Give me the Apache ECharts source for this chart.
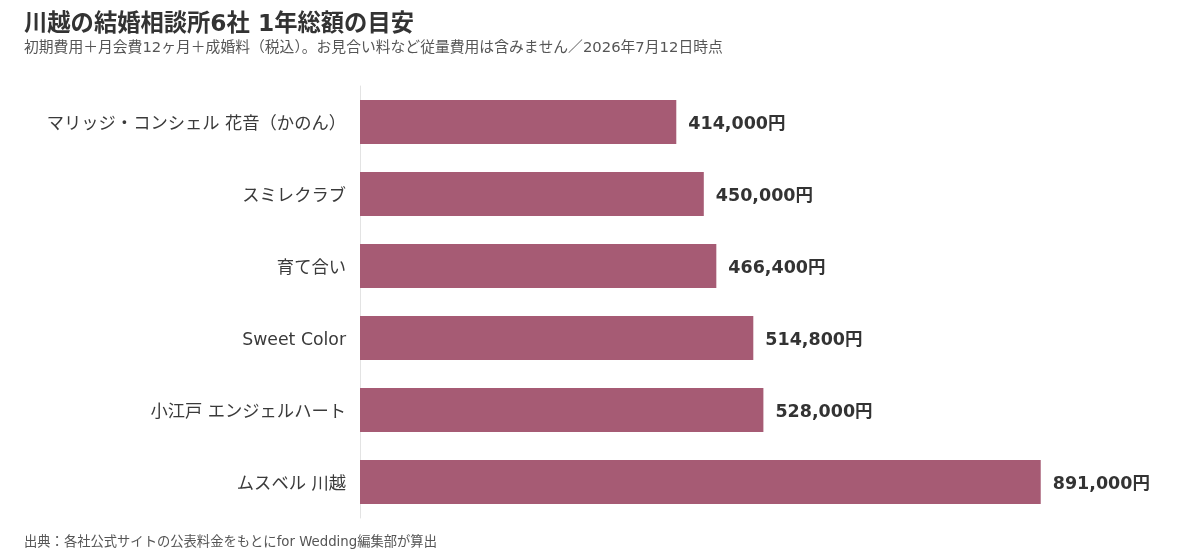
<!DOCTYPE html>
<html><head><meta charset="utf-8">
<script src="https://cdn.jsdelivr.net/npm/echarts@6/dist/echarts.min.js"></script>
<style>html,body{margin:0;padding:0;background:#fff}#c{width:1200px;height:554px}</style>
</head><body><div id="c"></div>
<script>
const categories = ["マリッジ・コンシェル 花音（かのん）","スミレクラブ","育て合い","Sweet Color","小江戸 エンジェルハート","ムスベル 川越"];
const values = [414000,450000,466400,514800,528000,891000];
const FONT = '"DejaVu Sans","Noto Sans CJK JP",sans-serif';
const chart = echarts.init(document.getElementById('c'));
chart.setOption({
  backgroundColor:'#fff',
  animation:false,
  textStyle:{fontFamily:FONT},
  title:[
    {text:'川越の結婚相談所6社 1年総額の目安',left:19,top:8,padding:[5,5],textStyle:{fontFamily:FONT,fontSize:23.3,fontWeight:'bold',color:'#333'}},
    {text:'初期費用＋月会費12ヶ月＋成婚料（税込）。お見合い料など従量費用は含みません／2026年7月12日時点',left:19,top:36,textStyle:{fontFamily:FONT,fontSize:14.8,fontWeight:'normal',color:'#555'}},
    {text:'出典：各社公式サイトの公表料金をもとにfor Wedding編集部が算出',left:19,top:531,textStyle:{fontFamily:FONT,fontSize:13.3,fontWeight:'normal',color:'#555'}}
  ],
  grid:{left:360,right:76,top:86,bottom:36,containLabel:false},
  xAxis:{type:'value',min:0,max:1000000,show:false},
  yAxis:{type:'category',data:categories,inverse:true,
    axisLine:{show:true,lineStyle:{color:'#e3e3e3',width:1}},
    axisTick:{show:false},
    axisLabel:{margin:14,formatter:v=>'{a|'+v+'}',
      rich:{a:{color:'#3a3a3a',fontSize:17.3,fontFamily:FONT,padding:[6,0,0,0]}}}
  },
  series:[{type:'bar',data:values,barWidth:44,
    itemStyle:{color:'#a65b74'},
    label:{show:true,position:'right',distance:12,offset:[0,2],color:'#333',fontSize:17.5,fontWeight:'bold',fontFamily:FONT,
      formatter:p=>p.value.toLocaleString('en-US')+'円'}
  }]
});
</script></body></html>
